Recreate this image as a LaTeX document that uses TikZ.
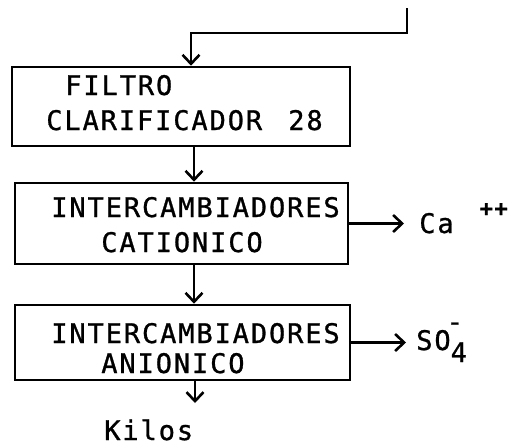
\documentclass[tikz,border=0pt]{standalone}
\usepackage{fontspec}
\setmainfont{DejaVu Sans Mono}[LetterSpace=7, FakeBold=1]
\usetikzlibrary{arrows.meta}
\begin{document}
\begin{tikzpicture}[x=1pt, y=-1pt, line width=2.6pt,
    every node/.style={font=\fontsize{27}{34}\selectfont},
    unit/.style={draw, rectangle, inner sep=0pt},
    txt/.style={anchor=base west, inner sep=0pt},
    flow/.style={-{Straight Barb[length=9pt, width=17pt, line width=2.6pt]}}]
  \useasboundingbox (0,0) rectangle (516,445);

  % Process units
  \node[unit, minimum width=338pt, minimum height=79pt] (filtro) at (181,106.5) {};
  \node[unit, minimum width=333pt, minimum height=81pt] (cation) at (181.5,223.5) {};
  \node[unit, minimum width=335pt, minimum height=75pt] (anion) at (182.5,342.5) {};

  % Unit labels
  \node[txt] (filtro-a) at (64,95) {FILTRO};
  \node[txt] (filtro-b) at (45,130) {CLARIFICADOR\hspace{8pt} 28};
  \node[txt] (cation-a) at (50,217) {INTERCAMBIADORES};
  \node[txt] (cation-b) at (100,252) {CATIONICO};
  \node[txt] (anion-a) at (50,343) {INTERCAMBIADORES};
  \node[txt] (anion-b) at (100,373) {ANIONICO};

  % Outputs
  \node[txt] (ca) at (418,233) {Ca\hspace{26pt}\raisebox{17pt}{\fontsize{22}{22}\selectfont\bfseries ++}};
  \node[txt] (so) at (415,350) {SO\raisebox{-12pt}{4}\llap{\raisebox{19pt}{-\hspace{4pt}}}};
  \node[txt] (kilos) at (103,440) {Kilos};

  % Feed line
  \coordinate (feed) at (407,8);
  \coordinate (bend) at (191,33);
  \coordinate (col) at (194,0);
  \coordinate (kend) at (195,403);

  \draw[flow] (feed) |- (bend) -- (bend |- filtro.north);
  \draw[flow] (filtro.south -| col) -- (cation.north -| col);
  \draw[flow] (cation.south -| col) -- (anion.north -| col);
  \draw[flow] (anion.south -| kend) -- (kend);

  % Removed ions
  \draw[flow] (cation.east) -- ([xshift=-14pt]cation.east -| ca.west);
  \draw[flow] (anion.east) -- ([xshift=-9pt]anion.east -| so.west);
\end{tikzpicture}
\end{document}
